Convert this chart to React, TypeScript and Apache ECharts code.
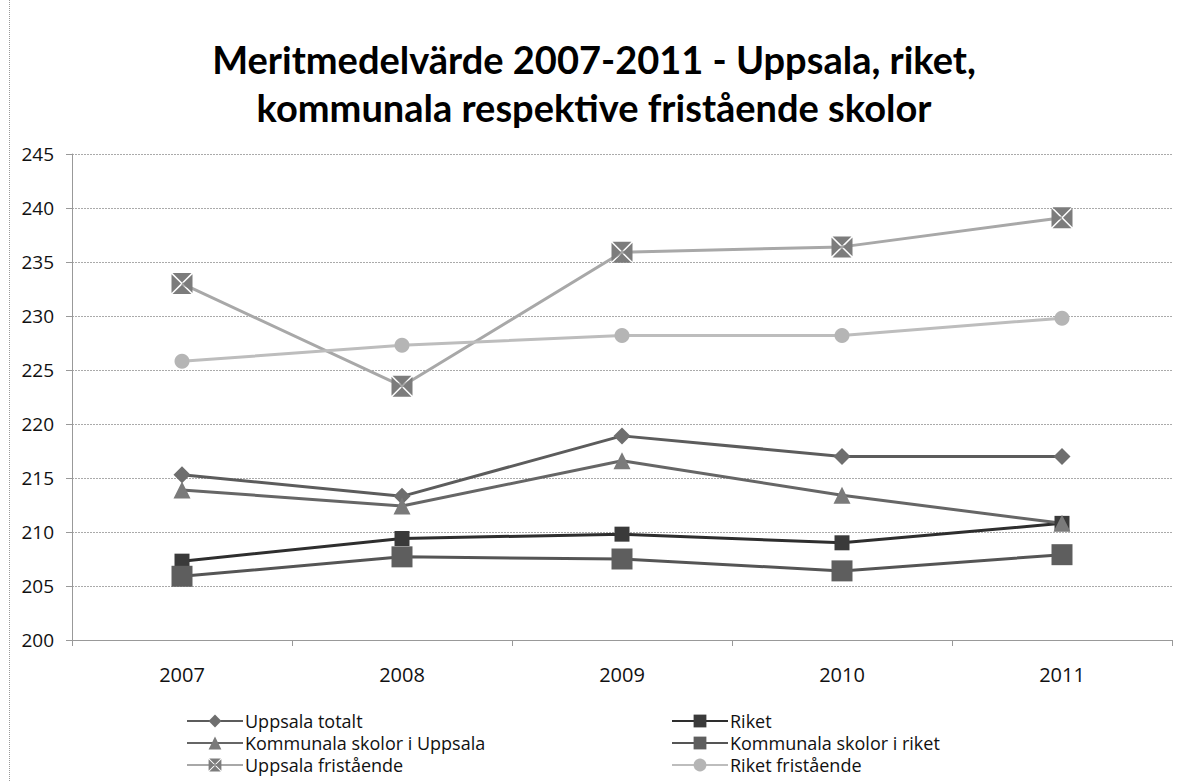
import React, { useEffect, useRef } from "react";
import * as echarts from "echarts";

const years = ["2007", "2008", "2009", "2010", "2011"];
const uppsalaTotalt = [215.3, 213.3, 218.9, 217.0, 217.0];
const kommunalaUppsala = [213.9, 212.4, 216.6, 213.4, 210.8];
const riket = [207.3, 209.4, 209.8, 209.0, 210.8];
const kommunalaRiket = [205.9, 207.7, 207.5, 206.4, 207.9];
const uppsalaFristaende = [233.0, 223.5, 235.9, 236.4, 239.1];
const riketFristaende = [225.8, 227.3, 228.2, 228.2, 229.8];

const TITLE_FONT = "Lato, 'Open Sans', sans-serif";
const FONT = "'Open Sans', Lato, sans-serif";
const XBOX =
  "path://M1,0 L19,0 L10,9 Z M20,1 L20,19 L11,10 Z M19,20 L1,20 L10,11 Z M0,19 L0,1 L9,10 Z";

export default function App() {
  const ref = useRef<HTMLDivElement>(null);
  useEffect(() => {
    const chart = echarts.init(ref.current!, null, { renderer: "svg" });
    const mk = (name: string, data: number[], color: string, mcolor: string, symbol: string, size: number, lw: number) => ({
      name,
      type: "line",
      data,
      symbol,
      symbolSize: size,
      lineStyle: { color, width: lw },
      itemStyle: { color: mcolor, borderColor: mcolor, borderWidth: 0 },
      emphasis: { disabled: true },
    });
    const legendCommon = {
      orient: "vertical",
      padding: 0,
      itemGap: 0,
      itemWidth: 56,
      itemHeight: 16,
      height: 80,
      textStyle: { fontFamily: FONT, fontSize: 18, color: "#111", lineHeight: 22, padding: [0, 0, 0, -3] },
    };
    chart.setOption({
      animation: false,
      backgroundColor: "#ffffff",
      title: {
        text: "Meritmedelvärde 2007-2011 - Uppsala, riket,\nkommunala respektive fristående skolor",
        left: 594,
        textAlign: "center",
        top: 35,
        padding: 0,
        textStyle: { fontFamily: TITLE_FONT, fontSize: 38, fontWeight: "bold", color: "#000", lineHeight: 48 },
      },
      graphic: [
        {
          type: "line",
          shape: { x1: 9.5, y1: 0, x2: 9.5, y2: 781 },
          style: { stroke: "#999", lineWidth: 1, lineDash: [1, 1] },
        },
      ],
      grid: { left: 72, right: 5, top: 154, bottom: 141, containLabel: false },
      xAxis: {
        type: "category",
        data: years,
        boundaryGap: true,
        axisLine: { lineStyle: { color: "#999", width: 1 } },
        axisTick: { show: true, length: 6, lineStyle: { color: "#999" } },
        axisLabel: { fontFamily: FONT, fontSize: 20, color: "#111", margin: 24 },
      },
      yAxis: {
        type: "value",
        min: 200,
        max: 245,
        interval: 5,
        axisLine: { show: true, lineStyle: { color: "#999" } },
        axisTick: { show: true, length: 6, lineStyle: { color: "#999" } },
        axisLabel: { fontFamily: FONT, fontSize: 19, color: "#111", margin: 18 },
        splitLine: { lineStyle: { color: "#aaa", width: 1, type: [2, 1] } },
      },
      legend: [
        {
          ...legendCommon,
          left: 186,
          top: 710,
          data: ["Uppsala totalt", "Kommunala skolor i Uppsala", "Uppsala fristående"],
        },
        {
          ...legendCommon,
          left: 671,
          top: 710,
          data: ["Riket", "Kommunala skolor i riket", "Riket fristående"],
        },
      ],
      series: [
        mk("Uppsala totalt", uppsalaTotalt, "#5c5c5c", "#6e6e6e", "diamond", 17, 3),
        mk("Riket", riket, "#2e2e2e", "#3a3a3a", "rect", 15, 3),
        mk("Kommunala skolor i Uppsala", kommunalaUppsala, "#666666", "#7a7a7a", "triangle", 17, 3),
        mk("Kommunala skolor i riket", kommunalaRiket, "#555555", "#5e5e5e", "rect", 21, 3),
        mk("Uppsala fristående", uppsalaFristaende, "#a8a8a8", "#7c7c7c", XBOX, 21, 3),
        mk("Riket fristående", riketFristaende, "#bdbdbd", "#b5b5b5", "circle", 15, 3),
      ],
    });
    return () => chart.dispose();
  }, []);
  return <div ref={ref} style={{ position: "fixed", left: 0, top: 0, width: 1177, height: 781 }} />;
}
